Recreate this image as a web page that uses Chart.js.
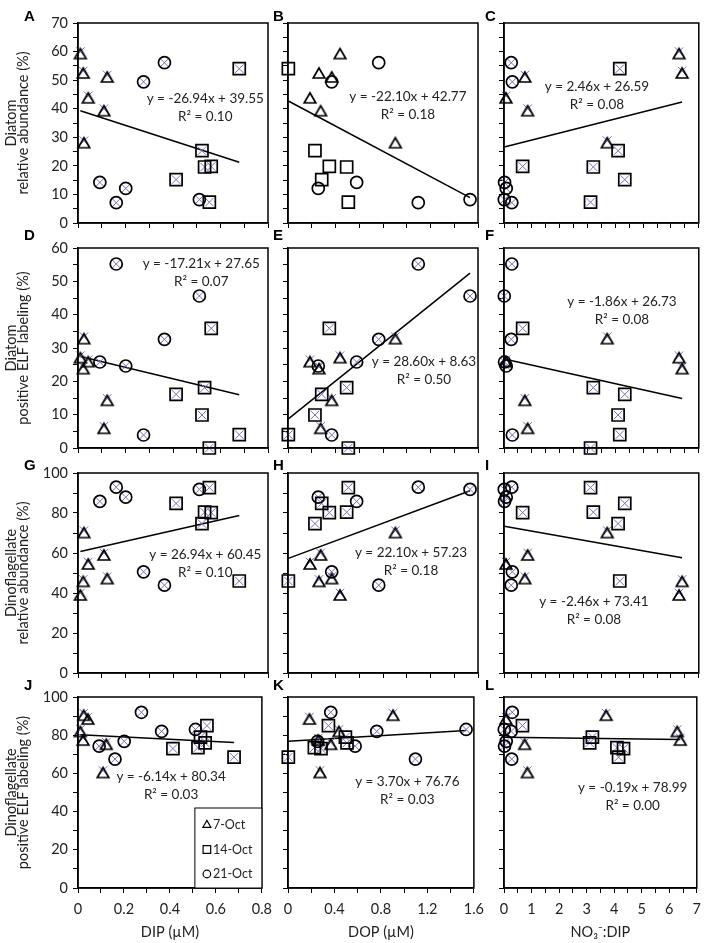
<!DOCTYPE html>
<html lang="en">
<head>
<meta charset="UTF-8">
<title>ELF labeling vs nutrients</title>
<script src="https://cdn.jsdelivr.net/npm/chart.js"></script>
<style>
  body { margin: 0; background: #fff; }
  #page { position: relative; width: 709px; height: 943px; overflow: hidden; background: #fff; }
  #page canvas { position: absolute; }
</style>
</head>
<body>
<div id="page"></div>
<script>
// sampling dates (one marker shape each)
const dates = ['7-Oct', '14-Oct', '21-Oct'];
const shapes = ['triangle', 'rect', 'circle'];

// x variables, one row per date, same sample order in every array
const dip = [
  [0.010, 0.022, 0.043, 0.109, 0.123, 0.025],
  [0.679, 0.522, 0.533, 0.561, 0.413, 0.553],
  [0.364, 0.276, 0.092, 0.201, 0.161, 0.511]
];
const dop = [
  [0.438, 0.261, 0.185, 0.275, 0.368, 0.904],
  [0.003, 0.227, 0.494, 0.348, 0.284, 0.508],
  [0.764, 0.368, 0.578, 0.255, 1.097, 1.533]
];
const no3dip = [
  [6.29, 6.40, 0.07, 0.85, 0.75, 3.71],
  [4.16, 4.10, 3.21, 0.67, 4.34, 3.11],
  [0.26, 0.30, 0.02, 0.08, 0.28, 0.01]
];

// y variables (%)
const diatomAbund = [
  [60.0, 53.2, 44.5, 40.0, 51.8, 28.8],
  [54.0, 25.3, 19.6, 19.8, 15.2, 7.3],
  [56.1, 49.4, 14.2, 12.1, 7.1, 8.2]
];
const diatomElf = [
  [27.7, 24.4, 26.5, 6.5, 14.9, 33.4],
  [4.0, 9.9, 18.1, 35.9, 16.1, 0.0],
  [32.6, 3.9, 25.8, 24.6, 55.2, 45.6]
];
const dinoAbund = [
  [40.0, 46.8, 55.5, 60.0, 48.2, 71.2],
  [46.0, 74.7, 80.4, 80.2, 84.8, 92.7],
  [43.9, 50.6, 85.8, 87.9, 92.9, 91.8]
];
const dinoElf = [
  [83.0, 78.5, 89.5, 61.5, 76.3, 91.5],
  [68.5, 73.5, 79.0, 85.0, 73.0, 76.0],
  [82.0, 92.0, 74.3, 76.8, 67.5, 83.0]
];

// linear fits, panels A..L
const panelLetters = ['A', 'B', 'C', 'D', 'E', 'F', 'G', 'H', 'I', 'J', 'K', 'L'];
const slopes = [-26.94, -22.10, 2.46, -17.21, 28.60, -1.86, 26.94, 22.10, -2.46, -6.14, 3.70, -0.19];
const intercepts = [39.55, 42.77, 26.59, 27.65, 8.63, 26.73, 60.45, 57.23, 73.41, 80.34, 76.76, 78.99];
const rSquared = ['0.10', '0.18', '0.08', '0.07', '0.50', '0.08', '0.10', '0.18', '0.08', '0.03', '0.03', '0.00'];

// tick labels
const dipTicks = [0, 0.2, 0.4, 0.6, 0.8];
const dopTicks = [0, 0.4, 0.8, 1.2, 1.6];
const ratioTicks = [0, 1, 2, 3, 4, 5, 6, 7];
const abundTicks = [0, 10, 20, 30, 40, 50, 60, 70];
const elfTicks = [0, 10, 20, 30, 40, 50, 60];
const pctTicks = [0, 20, 40, 60, 80, 100];

const xSeries = [dip, dop, no3dip];
const ySeries = [diatomAbund, diatomElf, dinoAbund, dinoElf];

const xAxes = [
  { max: 0.8, step: 0.1, labels: dipTicks, title: 'DIP (\u00b5M)' },
  { max: 1.6, step: 0.2, labels: dopTicks, title: 'DOP (\u00b5M)' },
  { max: 7, step: 0.5, labels: ratioTicks, title: 'NO\u2083\u207b:DIP' }
];
const yAxes = [
  { max: 70, step: 5, labels: abundTicks, title: ['Diatom', 'relative abundance (%)'] },
  { max: 60, step: 5, labels: elfTicks, title: ['Diatom', 'positive ELF labeling (%)'] },
  { max: 100, step: 10, labels: pctTicks, title: ['Dinoflagellate', 'relative abundance (%)'] },
  { max: 100, step: 10, labels: pctTicks, title: ['Dinoflagellate', 'positive ELF labeling (%)'] }
];

// page geometry (plot areas in page pixels)
const colLeft = [78, 288, 504];
const colRight = [268, 478, 699];
const rowTop = [23, 248, 473, 697];
const rowBottom = [223, 448, 673, 888];
const leftMargin = [78, 18, 22];
const rightPad = [12, 14, 10];
const letterDx = [-54, -15, -19];
const letterDy = [-2, -8, -3, -7];

// where each fit equation sits (data coords of first line centre)
const eqPos = [
  [0.536, 43.4], [1.01, 44.1], [3.34, 47.6],
  [0.519, 55.4], [1.145, 25.9], [4.24, 43.9],
  [0.536, 59.0], [1.036, 60.2], [3.23, 35.7],
  [0.405, 58.3], [1.027, 55.7], [4.67, 52.5]
];

const shapeRadius = [6.5, 8.5, 6];
const inkColor = '#222';
const crossColor = '#8467bd';
const tickFont = { family: 'Lato', size: 14.5 };

Chart.defaults.font.family = 'Lato';

// triangle marker sits a little below the data point, as in the spreadsheet original
function triangleMarker() {
  const c = document.createElement('canvas');
  c.width = 16;
  c.height = 22;
  const g = c.getContext('2d');
  g.strokeStyle = '#000';
  g.lineWidth = 1.7;
  g.lineJoin = 'miter';
  g.beginPath();
  g.moveTo(8, 8);
  g.lineTo(13.8, 18);
  g.lineTo(2.2, 18);
  g.closePath();
  g.stroke();
  return c;
}
const triImg = triangleMarker();

function tickText(v, labels) {
  const hit = labels.find(l => Math.abs(l - v) < 1e-6);
  return hit === undefined ? '' : String(hit);
}

function drawLegendMark(ctx, style, x, y) {
  ctx.beginPath();
  if (style === 'triangle') {
    const r = 4.6;
    ctx.moveTo(x, y - r);
    ctx.lineTo(x + r * 0.866, y + r / 2);
    ctx.lineTo(x - r * 0.866, y + r / 2);
    ctx.closePath();
  } else if (style === 'rect') {
    ctx.rect(x - 3.8, y - 3.8, 7.6, 7.6);
  } else {
    ctx.arc(x, y, 3.8, 0, Math.PI * 2);
  }
  ctx.stroke();
}

const panelDecor = {
  id: 'panelDecor',
  afterDatasetsDraw(chart, args, opts) {
    const { ctx, chartArea: a } = chart;
    const k = opts.k;
    ctx.save();
    // frame
    ctx.strokeStyle = '#000';
    ctx.lineWidth = 1.5;
    ctx.strokeRect(a.left, a.top, a.right - a.left, a.bottom - a.top);

    // fit equation
    const cx = chart.scales.x.getPixelForValue(eqPos[k][0]);
    const cy = chart.scales.y.getPixelForValue(eqPos[k][1]);
    ctx.fillStyle = inkColor;
    ctx.font = '13.5px Lato';
    ctx.textAlign = 'center';
    ctx.textBaseline = 'middle';
    const eq = 'y = ' + slopes[k].toFixed(2) + 'x + ' + intercepts[k].toFixed(2);
    ctx.fillText(eq, cx, cy);
    ctx.fillText('R\u00b2 = ' + rSquared[k], cx, cy + 18);

    // panel letter
    ctx.fillStyle = '#000';
    ctx.font = 'bold 15px "Liberation Sans"';
    ctx.textAlign = 'left';
    ctx.textBaseline = 'alphabetic';
    ctx.fillText(panelLetters[k], a.left + letterDx[opts.col], a.top + letterDy[opts.row]);

    // legend box in panel J
    if (opts.legend) {
      const bw = 67, bh = 80;
      const lx = a.right - bw, ly = a.bottom - bh;
      ctx.fillStyle = '#fff';
      ctx.fillRect(lx, ly, bw, bh);
      ctx.strokeStyle = '#000';
      ctx.lineWidth = 1;
      ctx.strokeRect(lx, ly, bw, bh);
      ctx.font = '12.5px Lato';
      ctx.textBaseline = 'middle';
      dates.forEach((d, i) => {
        const y = ly + 17 + i * 24.5;
        ctx.strokeStyle = '#000';
        ctx.lineWidth = 1.2;
        drawLegendMark(ctx, shapes[i], lx + 12, y);
        ctx.fillStyle = inkColor;
        ctx.fillText(d, lx + 18, y);
      });
    }
    ctx.restore();
  }
};

const page = document.getElementById('page');

function makePanel(row, col) {
  const k = row * 3 + col;
  const xs = xSeries[col], ys = ySeries[row];
  const xa = xAxes[col], ya = yAxes[row];
  const lm = leftMargin[col], rm = rightPad[col];
  const tm = 22, bm = row === 3 ? 55 : 14;
  const w = lm + (colRight[col] - colLeft[col]) + rm;
  const h = tm + (rowBottom[row] - rowTop[row]) + bm;

  const canvas = document.createElement('canvas');
  canvas.width = w;
  canvas.height = h;
  canvas.style.width = w + 'px';
  canvas.style.height = h + 'px';
  canvas.style.left = (colLeft[col] - lm) + 'px';
  canvas.style.top = (rowTop[row] - tm) + 'px';
  page.appendChild(canvas);

  const datasets = dates.map((d, i) => ({
    label: d,
    data: xs[i].map((x, j) => ({ x: x, y: ys[i][j] })),
    pointStyle: shapes[i] === 'triangle' ? triImg : shapes[i],
    pointRadius: shapeRadius[i],
    borderColor: '#000',
    borderWidth: 1.7,
    backgroundColor: 'rgba(0,0,0,0)'
  }));

  // purple crosses on every sample (not shown in panel B)
  if (k !== 1) {
    const pts = [];
    dates.forEach((d, i) => xs[i].forEach((x, j) => pts.push({ x: x, y: ys[i][j] })));
    datasets.push({
      label: 'ELF',
      data: pts,
      pointStyle: 'crossRot',
      pointRadius: 6,
      borderColor: crossColor,
      borderWidth: 1,
      backgroundColor: crossColor
    });
  }

  // fitted line across the x range of the data
  const allX = xs.flat();
  const x0 = Math.min(...allX), x1 = Math.max(...allX);
  datasets.push({
    label: 'fit',
    data: [
      { x: x0, y: slopes[k] * x0 + intercepts[k] },
      { x: x1, y: slopes[k] * x1 + intercepts[k] }
    ],
    showLine: true,
    pointRadius: 0,
    borderColor: '#000',
    borderWidth: 1.5
  });

  new Chart(canvas, {
    type: 'scatter',
    data: { datasets: datasets },
    options: {
      responsive: false,
      animation: false,
      events: [],
      clip: false,
      layout: { padding: { top: tm, right: rm, left: 0, bottom: 0 } },
      plugins: {
        legend: { display: false },
        tooltip: { enabled: false },
        panelDecor: { k: k, row: row, col: col, legend: k === 9 }
      },
      scales: {
        x: {
          type: 'linear',
          min: 0,
          max: xa.max,
          ticks: {
            stepSize: xa.step,
            autoSkip: false,
            maxRotation: 0,
            padding: 8,
            color: inkColor,
            font: tickFont,
            callback: v => row === 3 ? tickText(v, xa.labels) : ''
          },
          grid: { drawOnChartArea: false, drawTicks: true, tickLength: 5, color: '#000', lineWidth: 1 },
          border: { color: '#000', width: 1.5 },
          title: {
            display: row === 3,
            text: xa.title,
            color: inkColor,
            font: { family: 'Lato', size: 14.5 },
            padding: { top: 0, bottom: 2 }
          },
          afterFit: s => { s.height = bm; }
        },
        y: {
          type: 'linear',
          min: 0,
          max: ya.max,
          ticks: {
            stepSize: ya.step,
            autoSkip: false,
            padding: 5,
            color: inkColor,
            font: tickFont,
            callback: v => col === 0 ? tickText(v, ya.labels) : ''
          },
          grid: { drawOnChartArea: false, drawTicks: true, tickLength: 5, color: '#000', lineWidth: 1 },
          border: { color: '#000', width: 1.5 },
          title: {
            display: col === 0,
            text: ya.title,
            color: inkColor,
            font: { family: 'Lato', size: 14.5, lineHeight: 0.8 },
            padding: { top: 6, bottom: 0 }
          },
          afterFit: s => { s.width = lm; }
        }
      }
    },
    plugins: [panelDecor]
  });
}

for (let row = 0; row < 4; row++) {
  for (let col = 0; col < 3; col++) {
    makePanel(row, col);
  }
}
</script>
</body>
</html>
